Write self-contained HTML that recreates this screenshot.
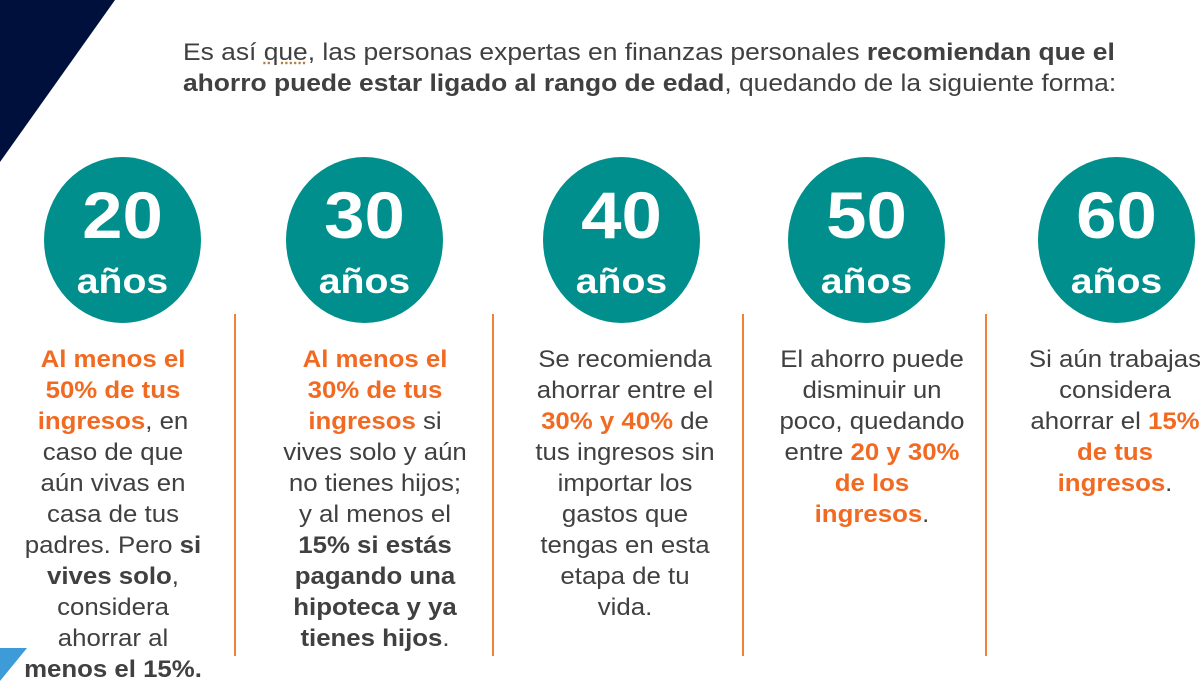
<!DOCTYPE html>
<html><head><meta charset="utf-8"><style>
body{margin:0;width:1202px;height:696px;overflow:hidden;background:#fff;position:relative;font-family:"Liberation Sans",sans-serif;color:#404040}
.hdr{position:absolute;left:183px;top:37px;font-size:24px;line-height:31px;white-space:nowrap;transform:scaleX(1.1);transform-origin:0 0}
.c{position:absolute;top:157px;width:157px;height:166px;border-radius:50%;background:#008f8c;color:#fff;font-weight:bold;text-align:center}
.c .n{position:absolute;top:21px;width:100%;font-size:66px;line-height:74px;transform:scaleX(1.1)}
.c .a{position:absolute;top:105px;width:100%;font-size:35px;line-height:40px;transform:scaleX(1.12)}
.t{position:absolute;top:344px;width:240px;text-align:center;font-size:24px;line-height:31px;white-space:nowrap;transform:scaleX(1.075);transform-origin:50% 0}
.o{color:#f26a21;font-weight:bold}
b{font-weight:bold}
.d{position:absolute;top:314px;width:1.5px;height:342px;background:#f0813a}
</style></head><body>
<svg width="1202" height="696" style="position:absolute;left:0;top:0">
<polygon points="0,0 115,0 0,162" fill="#00103d"/>
<polygon points="0,648 27,648 0,681" fill="#3d9bd8"/>
</svg>
<div class="hdr">Es así <span style="text-decoration:underline dotted #b08040">que</span>, las personas expertas en finanzas personales <b>recomiendan que el</b><br><b>ahorro puede estar ligado al rango de edad</b>, quedando de la siguiente forma:</div>
<div class="c" style="left:44px"><div class="n">20</div><div class="a">años</div></div>
<div class="c" style="left:286px"><div class="n">30</div><div class="a">años</div></div>
<div class="c" style="left:543px"><div class="n">40</div><div class="a">años</div></div>
<div class="c" style="left:788px"><div class="n">50</div><div class="a">años</div></div>
<div class="c" style="left:1038px"><div class="n">60</div><div class="a">años</div></div>
<div class="d" style="left:234px"></div><div class="d" style="left:492px"></div><div class="d" style="left:742px"></div><div class="d" style="left:985px"></div>
<div class="t" style="left:-7px"><span class="o">Al menos el<br>50% de tus<br>ingresos</span>, en<br>caso de que<br>aún vivas en<br>casa de tus<br>padres. Pero <b>si<br>vives solo</b>,<br>considera<br>ahorrar al<br><b>menos el 15%.</b></div>
<div class="t" style="left:255px"><span class="o">Al menos el<br>30% de tus<br>ingresos</span> si<br>vives solo y aún<br>no tienes hijos;<br>y al menos el<br><b>15% si estás<br>pagando una<br>hipoteca y ya<br>tienes hijos</b>.</div>
<div class="t" style="left:505px">Se recomienda<br>ahorrar entre el<br><span class="o">30% y 40%</span> de<br>tus ingresos sin<br>importar los<br>gastos que<br>tengas en esta<br>etapa de tu<br>vida.</div>
<div class="t" style="left:752px">El ahorro puede<br>disminuir un<br>poco, quedando<br>entre <span class="o">20 y 30%<br>de los<br>ingresos</span>.</div>
<div class="t" style="left:995px">Si aún trabajas<br>considera<br>ahorrar el <span class="o">15%<br>de tus<br>ingresos</span>.</div>
</body></html>
